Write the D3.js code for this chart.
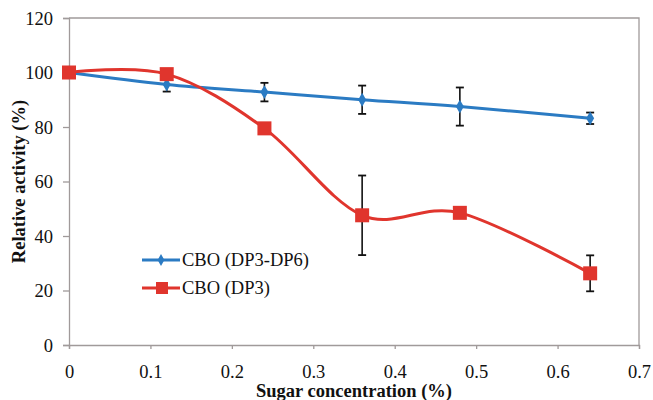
<!DOCTYPE html>
<html><head><meta charset="utf-8">
<script src="https://cdn.jsdelivr.net/npm/d3@7/dist/d3.min.js"></script>
<style>body{margin:0;background:#fff}svg{display:block}svg text{font-family:"Liberation Serif","DejaVu Serif",serif}</style>
</head><body>
<svg id="c" width="653" height="400"></svg>
<script>
const xValues = [0, 0.12, 0.24, 0.36, 0.48, 0.64];
const blueValues = [100, 95.6, 92.8, 90.0, 87.5, 83.2];
const blueErrors = [0, 2.6, 3.4, 5.2, 7.0, 2.1];
const redValues = [100, 99.4, 79.5, 47.6, 48.5, 26.3];
const redErrors = [0, 0, 0, 14.6, 0, 6.6];
const xTicks = [0, 0.1, 0.2, 0.3, 0.4, 0.5, 0.6, 0.7];
const yTicks = [0, 20, 40, 60, 80, 100, 120];
const seriesNames = ["CBO (DP3-DP6)", "CBO (DP3)"];

const svg = d3.select("#c");
const L = 69, R = 639, T = 18, B = 345;
const x = d3.scaleLinear().domain([0, 0.7]).range([L, R]);
const y = d3.scaleLinear().domain([0, 120]).range([B, T]);
const font = "Liberation Serif";
const axisCol = "#a09a9a";
const blue = "#2b7bc3", red = "#e0352d";

// border top/right
svg.append("path").attr("d", `M${L},${T}H${R}V${B}`).attr("fill","none").attr("stroke",axisCol).attr("stroke-width",1.3);

const ya = svg.append("g").attr("transform",`translate(${L},0)`)
  .call(d3.axisLeft(y).tickValues(yTicks).tickSize(6).tickPadding(10).tickFormat(d3.format("d")));
ya.attr("font-family", null);
ya.select(".domain").attr("stroke",axisCol).attr("stroke-width",1.3);
ya.selectAll(".tick line").attr("stroke",axisCol).attr("stroke-width",1.3);
ya.selectAll(".tick text").style("font-family",font).style("font-size","18.5px").attr("fill","#111").attr("dy","0.33em");

const xa = svg.append("g").attr("transform",`translate(0,${B})`)
  .call(d3.axisBottom(x).tickValues(xTicks).tickSize(4).tickPadding(6).tickFormat(d => d === 0 ? "0" : d3.format(".1f")(d)));
xa.attr("font-family", null);
xa.select(".domain").attr("stroke",axisCol).attr("stroke-width",1.3);
xa.selectAll(".tick line").attr("stroke",axisCol).attr("stroke-width",1.3);
xa.selectAll(".tick text").style("font-family",font).style("font-size","18.5px").attr("fill","#111").attr("y",33).attr("dy",0);

// axis titles
svg.append("text").attr("x",(L+R)/2).attr("y",397).attr("text-anchor","middle")
  .style("font-family",font).attr("font-weight","bold").style("font-size","18.5px").attr("fill","#111")
  .text("Sugar concentration (%)");
svg.append("text").attr("transform",`translate(25,${(T+B)/2}) rotate(-90)`).attr("text-anchor","middle")
  .style("font-family",font).attr("font-weight","bold").style("font-size","18.5px").attr("fill","#111")
  .text("Relative activity (%)");

const line = d3.line().x((d,i)=>x(xValues[i])).y(d=>y(d)).curve(d3.curveCardinal.tension(0));

function errorBars(vals, errs) {
  const g = svg.append("g");
  vals.forEach((v,i) => {
    if (!errs[i]) return;
    const cx = x(xValues[i]);
    g.append("line").attr("x1",cx).attr("x2",cx).attr("y1",y(v+errs[i])).attr("y2",y(v-errs[i])).attr("stroke","#111").attr("stroke-width",1.6);
    [v+errs[i], v-errs[i]].forEach(e => g.append("line").attr("x1",cx-4).attr("x2",cx+4).attr("y1",y(e)).attr("y2",y(e)).attr("stroke","#111").attr("stroke-width",1.8));
  });
}

// blue series
errorBars(blueValues, blueErrors);
svg.append("path").datum(blueValues).attr("d",line).attr("fill","none").attr("stroke",blue).attr("stroke-width",3);
const diamond = d3.symbol().type(d3.symbolDiamond).size(55);
svg.append("g").selectAll("path").data(blueValues).join("path")
  .attr("transform",(d,i)=>`translate(${x(xValues[i])},${y(d)})`).attr("d",diamond).attr("fill",blue);

// red series
errorBars(redValues, redErrors);
svg.append("path").datum(redValues).attr("d",line).attr("fill","none").attr("stroke",red).attr("stroke-width",3);
svg.append("g").selectAll("rect").data(redValues).join("rect")
  .attr("x",(d,i)=>x(xValues[i])-7).attr("y",d=>y(d)-7).attr("width",14).attr("height",14).attr("fill",red);

// legend
const lg = svg.append("g");
const legendItems = [{name:seriesNames[0], col:blue, yy:260, sym:"d"},{name:seriesNames[1], col:red, yy:288, sym:"s"}];
legendItems.forEach(it => {
  lg.append("line").attr("x1",142).attr("x2",180).attr("y1",it.yy).attr("y2",it.yy).attr("stroke",it.col).attr("stroke-width",3);
  if (it.sym === "d") lg.append("path").attr("transform",`translate(161,${it.yy})`).attr("d",d3.symbol().type(d3.symbolDiamond).size(40)).attr("fill",it.col);
  else lg.append("rect").attr("x",156).attr("y",it.yy-6).attr("width",12).attr("height",12).attr("fill",it.col);
  lg.append("text").attr("x",182).attr("y",it.yy+6).style("font-family",font).style("font-size","18.5px").attr("fill","#111").text(it.name);
});
</script>
</body></html>
